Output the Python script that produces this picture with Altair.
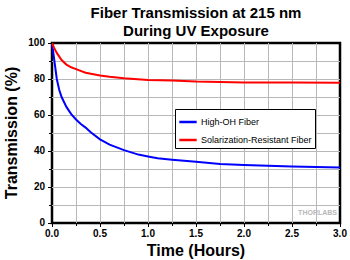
import altair as alt
import pandas as pd

# Data
hoh_t = [0, 0.02, 0.05, 0.075, 0.1, 0.15, 0.2, 0.25, 0.3, 0.35, 0.4, 0.5, 0.6, 0.75, 0.9, 1.0,
         1.1, 1.25, 1.5, 1.75, 2.0, 2.25, 2.5, 2.75, 3.0]
hoh_v = [100, 92, 80, 74, 70, 64.5, 60.5, 57.5, 55, 53, 50.5, 46.5, 43.5, 40.5, 38, 37,
         36, 35.2, 34, 32.8, 32.2, 31.8, 31.4, 31.1, 30.9]
sr_t = [0, 0.02, 0.05, 0.1, 0.15, 0.2, 0.25, 0.35, 0.5, 0.6, 0.75, 1.0, 1.25, 1.5, 2.0, 2.5, 3.0]
sr_v = [100, 97.5, 94.5, 90.5, 88, 86.5, 85.5, 83.5, 82, 81.2, 80.4, 79.5, 79.2, 78.6, 78.1, 78.0, 77.9]

series_names = ["High-OH Fiber", "Solarization-Resistant Fiber"]
series_colors = ["#0000ff", "#ff0000"]

x_major = [0, 0.5, 1.0, 1.5, 2.0, 2.5, 3.0]
x_minor = [0.25, 0.75, 1.25, 1.75, 2.25, 2.75]
x_grid = [0.25, 0.5, 0.75, 1.0, 1.25, 1.5, 1.75, 2.0, 2.25, 2.5, 2.75]
y_major = [0, 20, 40, 60, 80, 100]
y_minor = [10, 30, 50, 70, 90]
y_grid = [10, 20, 30, 40, 50, 60, 70, 80, 90]
x_title = "Time (Hours)"
y_title = "Transmission (%)"

df = pd.concat([
    pd.DataFrame({"t": hoh_t, "v": hoh_v, "s": series_names[0], "o": range(len(hoh_t))}),
    pd.DataFrame({"t": sr_t, "v": sr_v, "s": series_names[1], "o": range(len(sr_t))}),
], ignore_index=True)
xmaj = pd.DataFrame({"t": x_major})
xmin = pd.DataFrame({"t": x_minor})
ymaj = pd.DataFrame({"v": y_major})
ymin = pd.DataFrame({"v": y_minor})

FONT = "Liberation Sans"
W, H = 288, 180
xs = alt.Scale(domain=[0, 3], nice=False, zero=False)
ys = alt.Scale(domain=[0, 100], nice=False)
X = lambda: alt.X("t:Q", scale=xs, axis=None)
Y = lambda: alt.Y("v:Q", scale=ys, axis=None)

vgrid = alt.Chart(pd.DataFrame({"t": x_grid})).mark_rule(
    color="#b8b8b8", strokeWidth=1, xOffset=0.5).encode(x=X())
hgrid = alt.Chart(pd.DataFrame({"v": y_grid})).mark_rule(
    color="#b8b8b8", strokeWidth=1, yOffset=0.5).encode(y=Y())

lines = alt.Chart(df).mark_line(strokeWidth=2).encode(
    x=X(), y=Y(),
    color=alt.Color("s:N", scale=alt.Scale(domain=series_names, range=series_colors),
                    legend=alt.Legend(title=None, orient="none", legendX=123, legendY=66,
                                      symbolType="stroke", symbolStrokeWidth=2.5,
                                      symbolSize=300, labelFont=FONT, labelFontSize=9,
                                      labelColor="black", strokeColor="black", fillColor="white",
                                      padding=3, rowPadding=3, labelOffset=3)),
    order="o:Q",
)

xt_major = alt.Chart(xmaj).mark_rule(color="black", strokeWidth=1, xOffset=0.5).encode(
    x=X(), y=alt.value(H), y2=alt.value(H + 4))
xt_minor = alt.Chart(xmin).mark_rule(color="black", strokeWidth=1, xOffset=0.5).encode(
    x=X(), y=alt.value(H), y2=alt.value(H + 3))
yt_major = alt.Chart(ymaj).mark_rule(color="black", strokeWidth=1, yOffset=0.5).encode(
    y=Y(), x=alt.value(-4), x2=alt.value(0))
yt_minor = alt.Chart(ymin).mark_rule(color="black", strokeWidth=1, yOffset=0.5).encode(
    y=Y(), x=alt.value(-3), x2=alt.value(0))

xlab = alt.Chart(xmaj).mark_text(font=FONT, fontSize=10, fontWeight="bold", color="black",
                                 align="center", baseline="middle").encode(
    x=X(), y=alt.value(H + 11), text=alt.Text("t:Q", format=".1f"))
ylab = alt.Chart(ymaj).mark_text(font=FONT, fontSize=10, fontWeight="bold", color="black",
                                 align="right", baseline="middle").encode(
    y=Y(), x=alt.value(-7), text=alt.Text("v:Q", format="d"))

xtitle = alt.Chart(pd.DataFrame({"label": [x_title]})).mark_text(
    font=FONT, fontSize=16, fontWeight="bold", color="black", align="center",
    baseline="middle").encode(x=alt.value(W / 2), y=alt.value(H + 28), text="label:N")
ytitle = alt.Chart(pd.DataFrame({"label": [y_title]})).mark_text(
    font=FONT, fontSize=16, fontWeight="bold", color="black", align="center",
    baseline="middle", angle=270).encode(x=alt.value(-40), y=alt.value(H / 2), text="label:N")

mark = alt.Chart(pd.DataFrame({"label": ["THORLABS"]})).mark_text(
    font=FONT, fontSize=7, fontWeight="bold", color="#b8b8b8", align="right",
    baseline="middle").encode(x=alt.value(285), y=alt.value(170), text="label:N")

chart = alt.layer(vgrid, hgrid, lines, xt_major, xt_minor, yt_major, yt_minor,
                  xlab, ylab, xtitle, ytitle, mark).properties(
    width=W, height=H,
    background="white",
    padding={"left": 52, "top": 43, "right": 10, "bottom": 37},
    autosize=alt.AutoSizeParams(type="none"),
    title=alt.TitleParams(text=["Fiber Transmission at 215 nm", "During UV Exposure"],
                          font=FONT, fontSize=15, fontWeight="bold", color="black",
                          anchor="middle", lineHeight=18, offset=-1),
).configure_view(stroke="black", strokeWidth=2.5)

chart.save("out.html", embed_options={"renderer": "svg", "actions": False})
